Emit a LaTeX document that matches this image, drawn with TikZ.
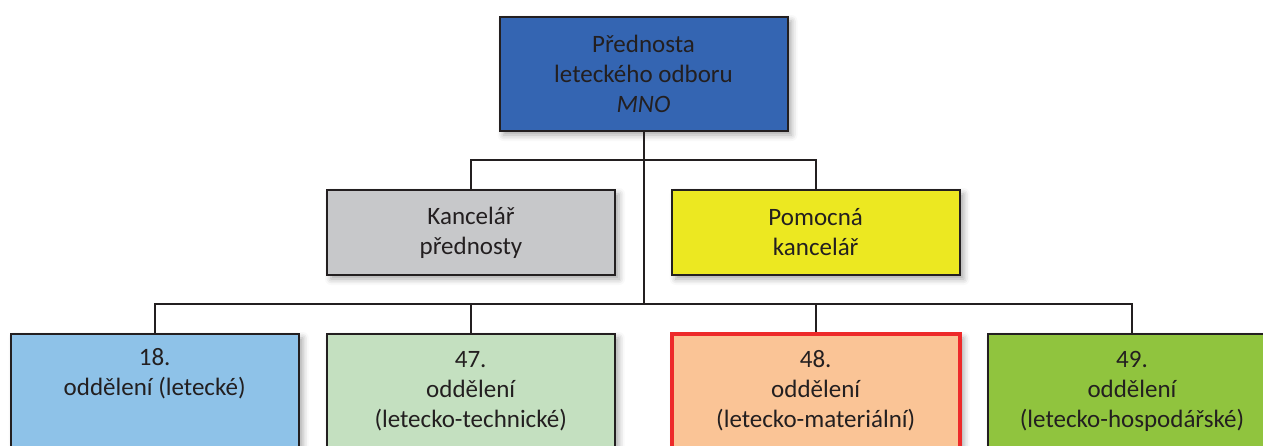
\documentclass[tikz,border=0pt]{standalone}
\usepackage{fontspec}
\setmainfont{Carlito}
\usetikzlibrary{shadows.blur}

\definecolor{chiefblue}{RGB}{52,101,178}
\definecolor{officegray}{RGB}{199,200,202}
\definecolor{helpyellow}{RGB}{236,232,33}
\definecolor{deptblue}{RGB}{142,194,232}
\definecolor{deptmint}{RGB}{196,224,192}
\definecolor{deptpeach}{RGB}{250,196,150}
\definecolor{deptgreen}{RGB}{144,196,62}
\definecolor{markred}{RGB}{237,42,42}
\definecolor{linegray}{RGB}{35,31,32}

\begin{document}
\begin{tikzpicture}[x=0.5pt,y=-0.5pt,
    box/.style={draw=linegray, line width=1pt, minimum width=144pt, align=center,
      text=linegray, font=\fontsize{12.5}{15}\selectfont,
      blur shadow={shadow xshift=2pt, shadow yshift=-2pt, shadow blur radius=3pt, shadow opacity=35}},
    conn/.style={draw=linegray, line width=1pt}]
    \useasboundingbox (0,0) rectangle (1263,445);
    \clip (0,0) rectangle (1263,445);
    % head of the section
    \node[box, fill=chiefblue, minimum height=57pt] (head) at (643.5,74)
      {Přednosta\\leteckého odboru\\\textit{MNO}};
    % offices
    \node[box, fill=officegray, minimum height=42.5pt] (kanc) at (471,232.5)
      {Kancelář\\přednosty};
    \node[box, fill=helpyellow, minimum height=42.5pt] (pomoc) at (815.7,232.5)
      {Pomocná\\kancelář};
    % departments
    \node[box, fill=deptblue, minimum height=57pt] (od18) at (154.7,391)
      {18.\\oddělení (letecké)\\\strut};
    \node[box, fill=deptmint, minimum height=57pt] (od47) at (470.7,391)
      {47.\\oddělení\\(letecko-technické)};
    \node[box, fill=deptpeach, draw=markred, line width=2pt, minimum height=57pt] (od48) at (815.7,391)
      {48.\\oddělení\\(letecko-materiální)};
    \node[box, fill=deptgreen, minimum height=57pt] (od49) at (1132,391)
      {49.\\oddělení\\(letecko-hospodářské)};
    % connectors
    \coordinate (j1) at (643.5,160);
    \coordinate (j2) at (643.5,304);
    \draw[conn] (head.south) -- (j2);
    \draw[conn] (kanc.north) |- (j1) -| (pomoc.north);
    \draw[conn] (od18.north) |- (j2) -| (od49.north);
    \draw[conn] (od47.north) -- (od47.north |- j2);
    \draw[conn] (od48.north) -- (od48.north |- j2);
\end{tikzpicture}
\end{document}
